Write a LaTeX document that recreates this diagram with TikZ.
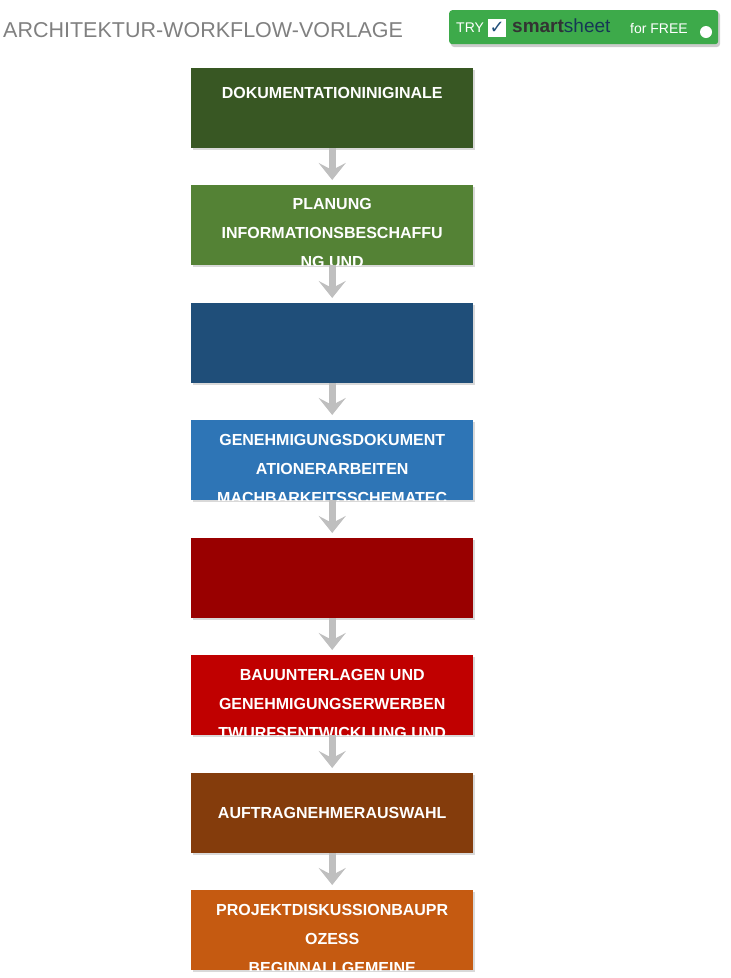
\documentclass[tikz,border=0pt]{standalone}
\usepackage{fontspec}
\setmainfont{Liberation Sans}
\newfontfamily\dejavu{DejaVu Sans}
\usetikzlibrary{arrows.meta}
\definecolor{cA}{HTML}{385723}
\definecolor{cB}{HTML}{548235}
\definecolor{cC}{HTML}{1F4E79}
\definecolor{cD}{HTML}{2E75B6}
\definecolor{cE}{HTML}{990000}
\definecolor{cF}{HTML}{C00000}
\definecolor{cG}{HTML}{843C0C}
\definecolor{cH}{HTML}{C55A11}
\definecolor{btn}{HTML}{3DAA4A}
\tikzset{
  stepbox/.style={minimum width=282pt,minimum height=80pt,inner sep=0pt,fill=#1},
  steptext/.style={anchor=north,inner sep=0pt,text=white,align=center,font=\fontsize{16}{29}\selectfont\bfseries},
  flowarrow/.style={line width=7pt,draw=black!25,-{Stealth[width=27pt,length=17pt,inset=7pt]},shorten >=5pt},
}
\newcommand{\mkstep}[5]{%
  \fill[black!15] (193pt,-#2-2pt) rectangle (475pt,-#2-82pt);
  \node[stepbox=#3,anchor=north west] (#1) at (191pt,-#2) {};
  \begin{scope}
    \clip (#1.south west) rectangle (#1.north east);
    \node[steptext] (#1t) at ([yshift=-#4]#1.north) {#5};
  \end{scope}}
\begin{document}
\begin{tikzpicture}[x=1pt,y=1pt]
\useasboundingbox (0,0) rectangle (731,-978);
\node[anchor=west,inner sep=0pt,text=black!50,font=\fontsize{21.5}{24}\selectfont] (title) at (3,-30) {ARCHITEKTUR-WORKFLOW-VORLAGE};
\fill[black!20,rounded corners=3pt] (451,-12) rectangle (720,-47);
\node[fill=btn,rounded corners=3pt,minimum width=269pt,minimum height=34pt,inner sep=0pt,anchor=north west] (btn) at (449,-10) {};
\node[anchor=west,inner sep=0pt,text=white,font=\fontsize{14}{16}\selectfont] (try) at (456,-28) {TRY};
\node[anchor=west,fill=white,minimum size=18pt,inner sep=0pt,text=cC,font=\dejavu\fontsize{18}{18}\selectfont] (chk) at (488,-28) {✓};
\node[anchor=west,inner sep=0pt,font=\fontsize{19}{20}\selectfont] (ss) at (512,-26) {\textcolor{black!80}{\bfseries smart}\textcolor{cC!70!black}{sheet}};
\node[anchor=west,inner sep=0pt,text=white,font=\fontsize{14}{16}\selectfont] (free) at (630,-28) {for FREE};
\node[circle,fill=white,minimum size=12pt,inner sep=0pt] (hand) at (706,-32) {};
\mkstep{s1}{68pt}{cA}{19pt}{DOKUMENTATIONINIGINALE}
\mkstep{s2}{185pt}{cB}{13pt}{PLANUNG\\INFORMATIONSBESCHAFFU\\NG UND}
\mkstep{s3}{303pt}{cC}{13pt}{}
\mkstep{s4}{420pt}{cD}{14pt}{GENEHMIGUNGSDOKUMENT\\ATIONERARBEITEN\\MACHBARKEITSSCHEMATEC}
\mkstep{s5}{538pt}{cE}{13pt}{}
\mkstep{s6}{655pt}{cF}{14pt}{BAUUNTERLAGEN UND\\GENEHMIGUNGSERWERBEN\\TWURFSENTWICKLUNG UND}
\mkstep{s7}{773pt}{cG}{34pt}{AUFTRAGNEHMERAUSWAHL}
\mkstep{s8}{890pt}{cH}{14pt}{PROJEKTDISKUSSIONBAUPR\\OZESS\\BEGINNALLGEMEINE}
\foreach \a/\b in {s1/s2,s2/s3,s3/s4,s4/s5,s5/s6,s6/s7,s7/s8}
  \draw[flowarrow] (\a.south) -- (\b.north);
\end{tikzpicture}
\end{document}
